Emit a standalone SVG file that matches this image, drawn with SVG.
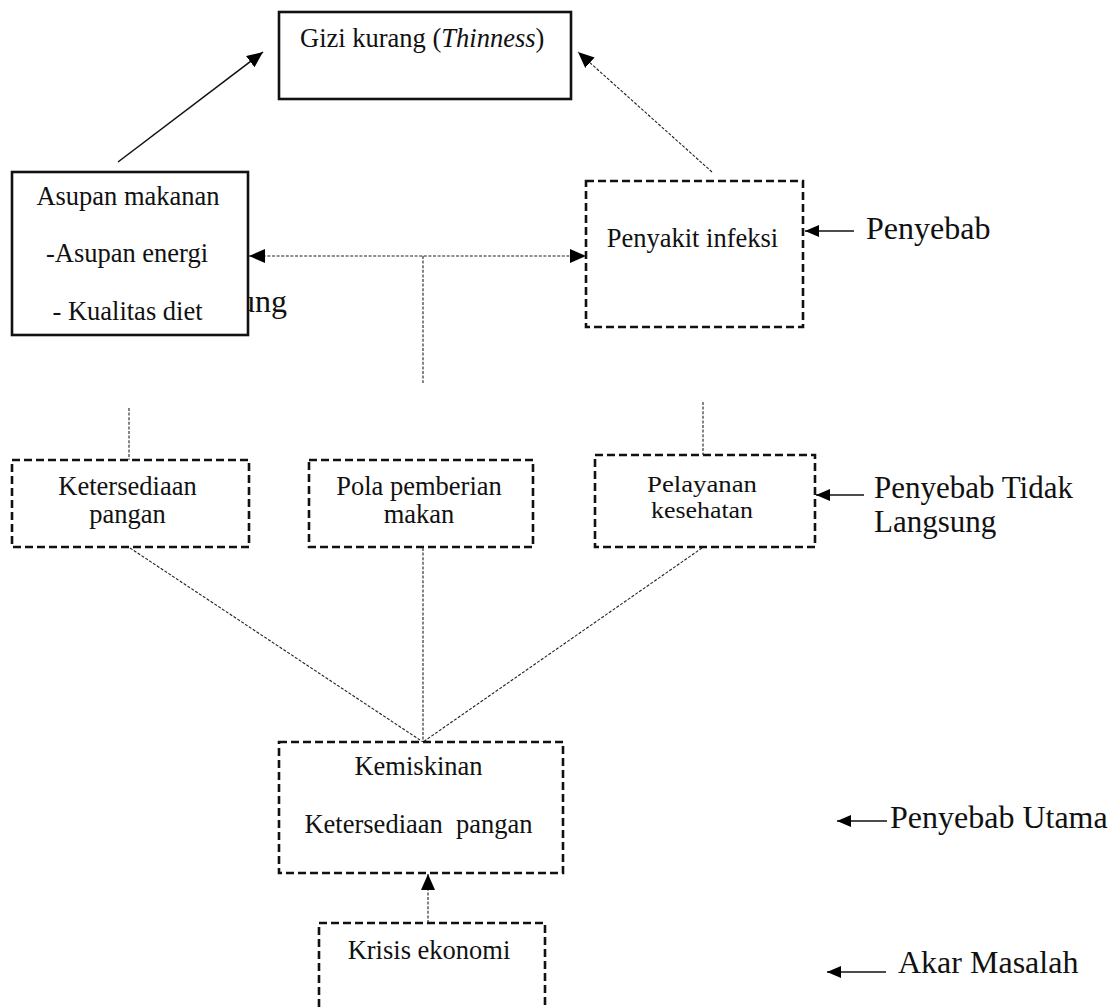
<svg xmlns="http://www.w3.org/2000/svg" width="1111" height="1008" viewBox="0 0 1111 1008">
<style>
  .t { font-family: "Liberation Serif", "Times New Roman", serif; font-size: 26.5px; fill: #111; }
  .lbl { font-family: "Liberation Serif", "Times New Roman", serif; font-size: 32px; fill: #111; }
  .solid { fill: #fff; stroke: #111; stroke-width: 2.6; }
  .dash { fill: #fff; stroke: #111; stroke-width: 2.6; stroke-dasharray: 8 4; }
  .dot { fill: none; stroke: #222; stroke-width: 1.1; stroke-dasharray: 3 1.6; }
  .line { fill: none; stroke: #111; stroke-width: 1.5; }
</style>
<defs>
  <marker id="ah" viewBox="0 0 16 14" refX="16" refY="7" markerWidth="16" markerHeight="14" markerUnits="userSpaceOnUse" orient="auto-start-reverse">
    <path d="M0,0 L16,7 L0,14 z" fill="#000"/>
  </marker>
  <marker id="ahs" viewBox="0 0 14 12" refX="14" refY="6" markerWidth="14" markerHeight="12" markerUnits="userSpaceOnUse" orient="auto-start-reverse">
    <path d="M0,0 L14,6 L0,12 z" fill="#000"/>
  </marker>
</defs>
<rect width="1111" height="1008" fill="#fff"/>

<g id="connectors">
  <line class="line" x1="118" y1="162" x2="263" y2="52" marker-end="url(#ah)"/>
  <line class="dot" x1="712" y1="172" x2="578" y2="52" marker-end="url(#ah)"/>
  <line class="dot" x1="249" y1="256" x2="586" y2="256" marker-start="url(#ah)" marker-end="url(#ah)"/>
  <line class="dot" x1="423" y1="256" x2="423" y2="383"/>
  <line class="dot" x1="129" y1="408" x2="129" y2="460"/>
  <line class="dot" x1="703" y1="402" x2="703" y2="455"/>
  <line class="dot" x1="130" y1="548" x2="423" y2="742"/>
  <line class="dot" x1="423" y1="548" x2="423" y2="742"/>
  <line class="dot" x1="702" y1="548" x2="423" y2="742"/>
  <line class="dot" x1="428" y1="923" x2="428" y2="874" marker-end="url(#ah)"/>
  <line class="line" x1="854" y1="231" x2="805" y2="231" marker-end="url(#ahs)"/>
  <line class="line" x1="864" y1="495" x2="816" y2="495" marker-end="url(#ahs)"/>
  <line class="line" x1="887" y1="821" x2="837" y2="821" marker-end="url(#ahs)"/>
  <line class="line" x1="886" y1="972" x2="827" y2="972" marker-end="url(#ahs)"/>
</g>

<g id="label-langsung-fragment">
  <text class="lbl" x="239" y="312">ung</text>
</g>

<g id="node-gizi">
  <rect class="solid" x="279" y="12" width="292" height="87"/>
  <text class="t" x="300" y="47">Gizi kurang (<tspan font-style="italic">Thinness</tspan>)</text>
</g>

<g id="node-asupan">
  <rect class="solid" x="12" y="172" width="236" height="163"/>
  <text class="t" x="128" y="205" text-anchor="middle">Asupan makanan</text>
  <text class="t" x="127" y="262" text-anchor="middle">-Asupan energi</text>
  <text class="t" x="127.5" y="320" text-anchor="middle">- Kualitas diet</text>
</g>

<g id="node-penyakit">
  <rect class="dash" x="586" y="181" width="217" height="146"/>
  <text class="t" x="692.5" y="247" text-anchor="middle">Penyakit infeksi</text>
</g>

<g id="node-ketersediaan">
  <rect class="dash" x="12" y="460" width="237" height="87"/>
  <text class="t" x="127.5" y="495" text-anchor="middle">Ketersediaan</text>
  <text class="t" x="127.5" y="523" text-anchor="middle">pangan</text>
</g>

<g id="node-pola">
  <rect class="dash" x="309" y="460" width="224" height="87"/>
  <text class="t" x="419" y="495" text-anchor="middle">Pola pemberian</text>
  <text class="t" x="419" y="523" text-anchor="middle">makan</text>
</g>

<g id="node-pelayanan">
  <rect class="dash" x="595" y="455" width="220" height="92"/>
  <text class="t" x="702" y="492" text-anchor="middle" style="font-size:23px" textLength="110" lengthAdjust="spacingAndGlyphs">Pelayanan</text>
  <text class="t" x="702" y="518" text-anchor="middle" style="font-size:23px" textLength="102" lengthAdjust="spacingAndGlyphs">kesehatan</text>
</g>

<g id="node-kemiskinan">
  <rect class="dash" x="279" y="742" width="284" height="131"/>
  <text class="t" x="418.5" y="775" text-anchor="middle">Kemiskinan</text>
  <text class="t" x="418.5" y="833" text-anchor="middle" xml:space="preserve" style="white-space:pre">Ketersediaan  pangan</text>
</g>

<g id="node-krisis">
  <rect class="dash" x="319" y="923" width="226" height="110"/>
  <text class="t" x="429" y="959" text-anchor="middle">Krisis ekonomi</text>
</g>

<g id="labels">
  <text class="lbl" x="866" y="239">Penyebab</text>
  <text class="lbl" x="874" y="498" style="font-size:31px">Penyebab Tidak</text>
  <text class="lbl" x="874" y="532" style="font-size:31px">Langsung</text>
  <text class="lbl" x="890" y="828">Penyebab Utama</text>
  <text class="lbl" x="898" y="973">Akar Masalah</text>
</g>
</svg>
